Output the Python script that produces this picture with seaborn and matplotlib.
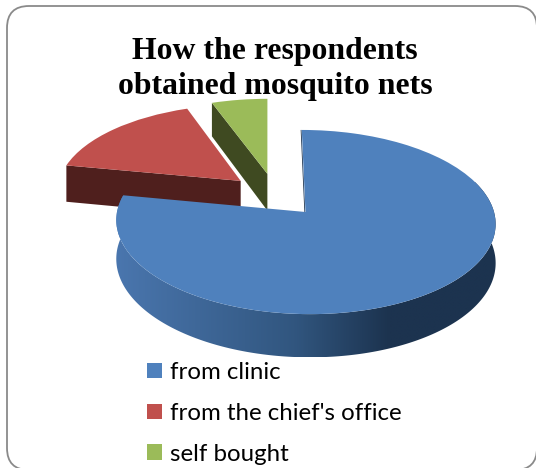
import numpy as np
import matplotlib
matplotlib.use("Agg")
import matplotlib.pyplot as plt
import seaborn as sns
from matplotlib.patches import FancyBboxPatch, Patch, Polygon
from matplotlib.transforms import Transform
from matplotlib.colors import LinearSegmentedColormap

categories = ["from clinic", "from the chief's office", "self bought"]
shares = [78, 16.5, 5.5]
explode_amount = 0.25
title_text = "How the respondents\nobtained mosquito nets"

top_colors = ["#4F81BD", "#C0504D", "#9BBB59"]
side_colors = ["#1C334F", "#4F1F1D", "#3F4A21"]
gradient_stops = ["#4A76AE", "#31567F", "#1C334F", "#1C334F"]

sns.set_theme(style="white")
palette = sns.color_palette(top_colors)

OX, OY, RX, RY, K, DEPTH, XC = 305.5, 212.0, 188.5, 91.0, 0.109, 38.5, -0.2


def project(x, y, z=0.0):
    x, y = np.asarray(x, float), np.asarray(y, float)
    w = 1 + K * y
    return OX + RX * (XC + (x - XC) / w), OY - (RY * y + DEPTH * z) / w


class Projection(Transform):
    input_dims = 2
    output_dims = 2

    def transform_non_affine(self, xy):
        xy = np.asarray(xy, float)
        px, py = project(xy[:, 0], xy[:, 1])
        return np.column_stack([px, py])


fig = plt.figure(figsize=(5.36, 4.68), dpi=100, facecolor="white")
ax = fig.add_axes([0, 0, 1, 1])

blue_mid = np.deg2rad(90 - 360 * shares[0] / sum(shares) / 2)
centre = (-explode_amount * np.cos(blue_mid), -explode_amount * np.sin(blue_mid))
wedges, _ = ax.pie(shares, explode=[explode_amount] * 3, colors=palette,
                   startangle=90, counterclock=False, center=centre,
                   wedgeprops={"linewidth": 0})
ax.set_aspect("auto")
ax.set_xlim(0, 536)
ax.set_ylim(468, 0)
ax.axis("off")

card = FancyBboxPatch((7, 6), 530, 464, boxstyle="round,pad=0,rounding_size=22",
                      fc="white", ec="#8A8A8A", lw=1.3, zorder=0)
ax.add_patch(card)

proj = Projection()
z_tops = [6, 4, 2]
for w, z in zip(wedges, z_tops):
    w.set_transform(proj + ax.transData)
    w.set_zorder(z)
    w.set_clip_on(False)


def radial_side(w, theta, color, z):
    cx, cy = w.center
    t = np.deg2rad(theta)
    ex, ey = cx + np.cos(t), cy + np.sin(t)
    a = project(cx, cy)
    b = project(ex, ey)
    c = project(ex, ey, -1)
    d = project(cx, cy, -1)
    ax.add_patch(Polygon([a, b, c, d], closed=True, fc=color, ec="none", zorder=z))


radial_side(wedges[1], wedges[1].theta2, side_colors[1], 3)
radial_side(wedges[2], wedges[2].theta2, side_colors[2], 1)

b = wedges[0]
th = np.deg2rad(np.linspace(b.theta1, min(b.theta2, 20), 300))
xs, ys = b.center[0] + np.cos(th), b.center[1] + np.sin(th)
upper = np.column_stack(project(xs, ys))
lower = np.column_stack(project(xs, ys, -1))
rim = np.vstack([upper, lower[::-1]])
cmap = LinearSegmentedColormap.from_list(
    "rim", list(zip([0, 0.47, 0.72, 1], gradient_stops)))
img = ax.imshow(np.linspace(0, 1, 256)[None, :], cmap=cmap, vmin=0, vmax=1, aspect="auto",
                extent=(rim[:, 0].min(), rim[:, 0].max(), rim[:, 1].max(), rim[:, 1].min()),
                zorder=5, interpolation="bilinear")
rim_patch = Polygon(rim, closed=True, transform=ax.transData, fc="none", ec="none")
ax.add_patch(rim_patch)
img.set_clip_path(rim_patch)
ax.set_xlim(0, 536)
ax.set_ylim(468, 0)

ex = project([b.center[0], b.center[0]], [b.center[1], b.center[1] + 1])
ax.plot(ex[0] - 0.7, ex[1], color=side_colors[0], lw=0.6, zorder=5.5, solid_capstyle="butt")

ax.text(275, 69, title_text, family="Liberation Serif", weight="bold", fontsize=22.9,
        color="black", ha="center", va="center", linespacing=1.29, zorder=10)

font_size = 17.3
handles = [Patch(facecolor=c, edgecolor="none", label=l) for c, l in zip(palette, categories)]
ax.legend(handles=handles, loc="upper left", bbox_to_anchor=(147, 362), bbox_transform=ax.transData,
          frameon=False, prop={"family": "Lato", "size": font_size},
          handlelength=0.64, handleheight=0.64, handletextpad=0.3,
          labelspacing=0.83, borderpad=0, borderaxespad=0, labelcolor="black")

fig.savefig("out.png", dpi=100, facecolor="white")
